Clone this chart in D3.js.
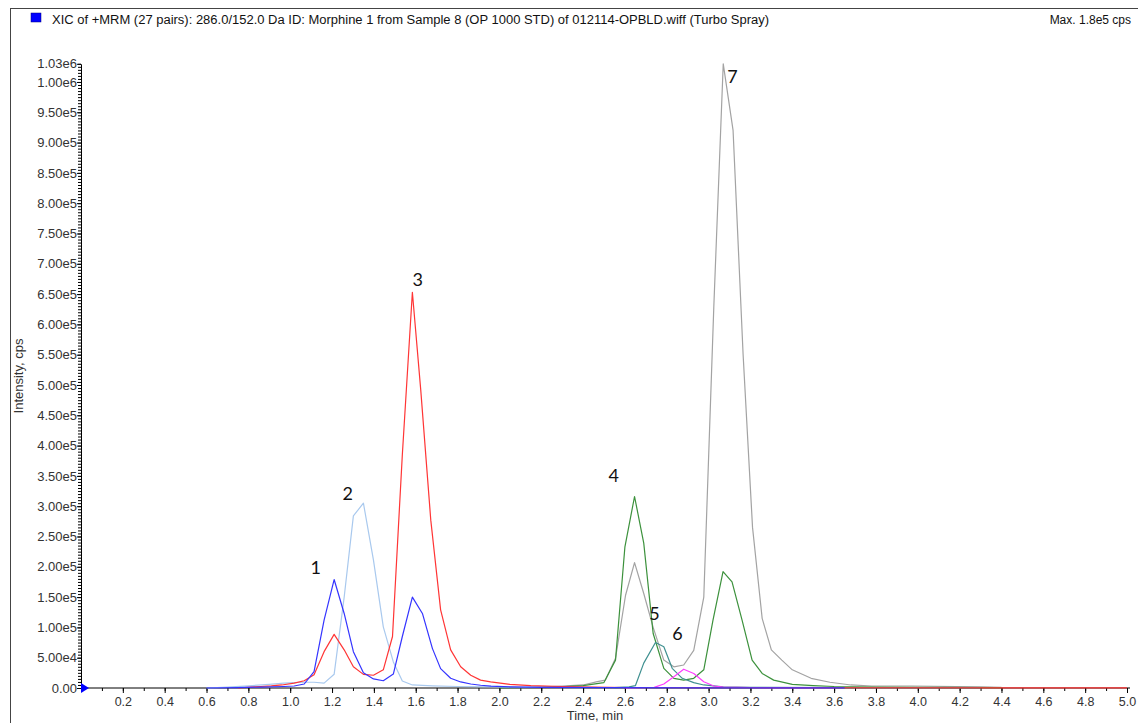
<!DOCTYPE HTML>
<html lang="en">
	<head>
		<title>XIC chromatogram</title>
		<style type="text/css">
			body {
				margin: 0;
				background-color: rgb(255, 255, 255);
			}
			svg text {
				font-family: "Liberation Sans", Arial, sans-serif;
			}
		</style>
		<script src="https://d3js.org/d3.v7.min.js"></script>
	</head>
	<body>
		<div id="display"></div>
		<script>

			// data: [time (min), intensity (cps)]
			var blueTrace = [
				[0.60, 0], [0.75, 500], [0.86, 1500], [0.97, 2500], [1.019, 3300], [1.067, 6600],
				[1.114, 27000], [1.162, 112000], [1.210, 179000], [1.258, 123000], [1.302, 60000],
				[1.350, 25000], [1.398, 15000], [1.445, 12000], [1.493, 23000], [1.536, 85000],
				[1.584, 150000], [1.632, 123000], [1.680, 65000], [1.719, 32000], [1.767, 16000],
				[1.815, 10000], [1.863, 6600], [1.91, 4500], [1.96, 3200], [2.05, 2000],
				[2.2, 1000], [2.5, 500], [3.0, 300], [3.65, 200]
			];
			var redTrace = [
				[0.75, 0], [0.81, 1500], [0.86, 2500], [0.91, 3500], [0.96, 5000], [1.019, 8000],
				[1.067, 12000], [1.114, 22000], [1.162, 60000], [1.210, 88500], [1.258, 63000],
				[1.302, 35000], [1.350, 22500], [1.398, 21000], [1.445, 30000], [1.489, 85000],
				[1.536, 385000], [1.584, 653000], [1.624, 492000], [1.672, 277000], [1.719, 129000],
				[1.767, 63000], [1.815, 35000], [1.863, 21000], [1.91, 13000], [1.958, 10000],
				[2.05, 6000], [2.15, 4000], [2.3, 2500], [2.45, 1500], [2.6, 800], [3.0, 400], [5.0, 300]
			];
			var lightBlueTrace = [
				[0.60, 0], [0.70, 1500], [0.80, 3500], [0.90, 6000], [0.97, 8000], [1.019, 9000],
				[1.067, 9500], [1.114, 9500], [1.162, 8000], [1.210, 22600], [1.258, 150000],
				[1.302, 284000], [1.350, 305000], [1.398, 211000], [1.445, 101000], [1.493, 43000],
				[1.536, 11500], [1.584, 5000], [1.68, 3500], [1.8, 2500], [2.0, 1800], [2.2, 1000], [2.4, 500]
			];
			var greenTrace = [
				[2.0, 300], [2.2, 1000], [2.292, 2000], [2.40, 4000], [2.499, 8800], [2.555, 46000],
				[2.600, 233000], [2.646, 316000], [2.690, 239000], [2.735, 90000], [2.786, 32500],
				[2.834, 16000], [2.881, 13000], [2.929, 16000], [2.977, 30000], [3.021, 112000],
				[3.069, 192000], [3.112, 175000], [3.160, 112000], [3.208, 46000], [3.256, 24000],
				[3.311, 13000], [3.40, 6000], [3.50, 4000], [3.60, 2500], [3.80, 1500], [4.0, 1000], [4.4, 500]
			];
			var grayTrace = [
				[2.10, 500], [2.20, 1500], [2.30, 3000], [2.40, 5000], [2.468, 10400], [2.507, 13000],
				[2.555, 49000], [2.603, 153000], [2.646, 207000], [2.690, 156000], [2.735, 100000],
				[2.786, 46000], [2.834, 35000], [2.881, 38000], [2.929, 62000], [2.977, 150000],
				[3.025, 630000], [3.070, 1030000], [3.117, 920000], [3.165, 550000], [3.210, 265000],
				[3.256, 115000], [3.300, 63000], [3.350, 46000], [3.400, 30000], [3.490, 16000],
				[3.580, 9500], [3.680, 5000], [3.780, 3300], [3.970, 3300], [4.290, 2000], [4.400, 1000]
			];
			var tealTrace = [
				[2.55, 500], [2.62, 2000], [2.65, 3800], [2.69, 41000], [2.746, 75000], [2.786, 68000],
				[2.826, 32500], [2.874, 16000], [2.929, 8800], [2.977, 5000], [3.07, 2000], [3.2, 1000],
				[3.6, 500], [4.3, 300]
			];
			var magentaTrace = [
				[2.60, 300], [2.74, 1000], [2.786, 6600], [2.834, 18700], [2.881, 31000], [2.929, 24000],
				[2.977, 10400], [3.025, 3300], [3.07, 1500], [3.2, 800], [3.6, 400]
			];

			var traceNames = ["gray", "green", "teal", "magenta", "lightblue", "red", "blue"];
			var traceData = [grayTrace, greenTrace, tealTrace, magentaTrace, lightBlueTrace, redTrace, blueTrace];
			var traceColors = ["#a3a3a3", "#3c913c", "#3f9090", "#ff3cff", "#a9c9ee", "#ff3535", "#3434ff"];

			// peak numbers: [label, time, intensity]
			var peakLabels = [
				["1", 1.122, 198000], ["2", 1.275, 320000], ["3", 1.610, 673000], ["4", 2.546, 350000],
				["5", 2.741, 122000], ["6", 2.851, 89000], ["7", 3.114, 1008000]
			];

			var xMajorTicks = d3.range(1, 26).map(function(i) { return i * 0.2; });
			var xMinorTicks = d3.range(1, 51).map(function(i) { return i * 0.1; });
			var yMajorTicks = d3.range(0, 21).map(function(i) { return i * 50000; }).concat([1030000]);
			var yMinorTicks = d3.range(0, 207).map(function(i) { return i * 5000; });

			var titleText = "XIC of +MRM (27 pairs): 286.0/152.0 Da ID: Morphine 1 from Sample 8 (OP 1000 STD) of 012114-OPBLD.wiff (Turbo Spray)";
			var maxText = "Max. 1.8e5 cps";

			/////////////////////////////////////////////////////////////////////////////////////////

			var width = 1138, height = 723;
			var plotLeft = 81, plotRight = 1127, plotTop = 63.8, plotBottom = 688;

			var svg = d3.select("#display").append("svg")
				.attr("width", width)
				.attr("height", height);

			// frame lines
			svg.append("line").attr("x1", 10.5).attr("x2", 10.5).attr("y1", 8).attr("y2", height).attr("stroke", "#444");
			svg.append("line").attr("x1", 10).attr("x2", width).attr("y1", 8.5).attr("y2", 8.5).attr("stroke", "#444");

			// header
			svg.append("rect").attr("x", 31).attr("y", 13).attr("width", 10).attr("height", 9)
				.attr("fill", "#0000ff").attr("stroke", "#000080").attr("stroke-width", 0.5);
			svg.append("text").attr("x", 52).attr("y", 23.5).attr("font-size", "12.5px").attr("fill", "#111")
				.attr("textLength", 717).attr("lengthAdjust", "spacingAndGlyphs")
				.text(titleText);
			svg.append("text").attr("x", 1131).attr("y", 23.5).attr("font-size", "12px").attr("fill", "#111")
				.attr("text-anchor", "end").text(maxText);

			var x = d3.scaleLinear().domain([0, 5.0]).range([plotLeft, plotRight]);
			var y = d3.scaleLinear().domain([0, 1030000]).range([plotBottom, plotTop]);

			function yFormat(v)
			{
				if (v === 0) return "0.00";
				return d3.format(".2e")(v).replace("e+", "e");
			}

			// y axis: minor then major
			svg.append("g")
				.attr("transform", "translate(" + plotLeft + ",0)")
				.call(d3.axisLeft(y).tickValues(yMinorTicks).tickSize(3).tickFormat(""))
				.call(function(g) { g.select(".domain").remove(); });
			var yAxis = svg.append("g")
				.attr("transform", "translate(" + plotLeft + ",0)")
				.call(d3.axisLeft(y).tickValues(yMajorTicks).tickSize(4).tickSizeOuter(0).tickPadding(0).tickFormat(yFormat));
			yAxis.selectAll("text").attr("font-size", "13px").attr("fill", "#333").style("font-family", "Liberation Sans, Arial, sans-serif");

			// x axis
			svg.append("g")
				.attr("transform", "translate(0," + plotBottom + ")")
				.call(d3.axisBottom(x).tickValues(xMinorTicks).tickSize(3).tickFormat(""))
				.call(function(g) { g.select(".domain").remove(); });
			var xAxis = svg.append("g")
				.attr("transform", "translate(0," + plotBottom + ")")
				.call(d3.axisBottom(x).tickValues(xMajorTicks).tickSize(5).tickSizeOuter(0).tickPadding(4).tickFormat(d3.format(".1f")));
			xAxis.select(".domain").attr("d", "M" + plotLeft + ",0H" + (plotRight + 3));
			xAxis.selectAll("text").attr("font-size", "12.5px").attr("fill", "#333").style("font-family", "Liberation Sans, Arial, sans-serif");

			// axis titles
			svg.append("text").attr("font-size", "13px").attr("fill", "#333").attr("text-anchor", "middle")
				.attr("transform", "translate(23,376) rotate(-90)").text("Intensity, cps");
			svg.append("text").attr("font-size", "13px").attr("fill", "#333").attr("text-anchor", "middle")
				.attr("x", 595).attr("y", 720).text("Time, min");

			// traces
			var line = d3.line()
				.x(function(d) { return x(d[0]); })
				.y(function(d) { return y(d[1]); });

			svg.append("g").selectAll("path")
				.data(traceData)
				.enter().append("path")
				.attr("class", function(d, i) { return "trace " + traceNames[i]; })
				.attr("d", line)
				.attr("fill", "none")
				.attr("stroke", function(d, i) { return traceColors[i]; })
				.attr("stroke-width", 1.2)
				.attr("stroke-linejoin", "round");

			// origin marker
			svg.append("path")
				.attr("d", "M" + plotLeft + "," + (plotBottom - 5) + "L" + (plotLeft + 8) + "," + plotBottom + "L" + plotLeft + "," + (plotBottom + 5) + "Z")
				.attr("fill", "#0000ff");

			// peak numbers
			svg.append("g").selectAll("text")
				.data(peakLabels)
				.enter().append("text")
				.attr("x", function(d) { return x(d[1]); })
				.attr("y", function(d) { return y(d[2]); })
				.attr("dy", "0.35em")
				.attr("text-anchor", "middle")
				.attr("font-size", "18px")
				.style("font-family", "Lato, 'Open Sans', sans-serif")
				.attr("fill", "#111")
				.text(function(d) { return d[0]; });

		</script>
	</body>
</html>
